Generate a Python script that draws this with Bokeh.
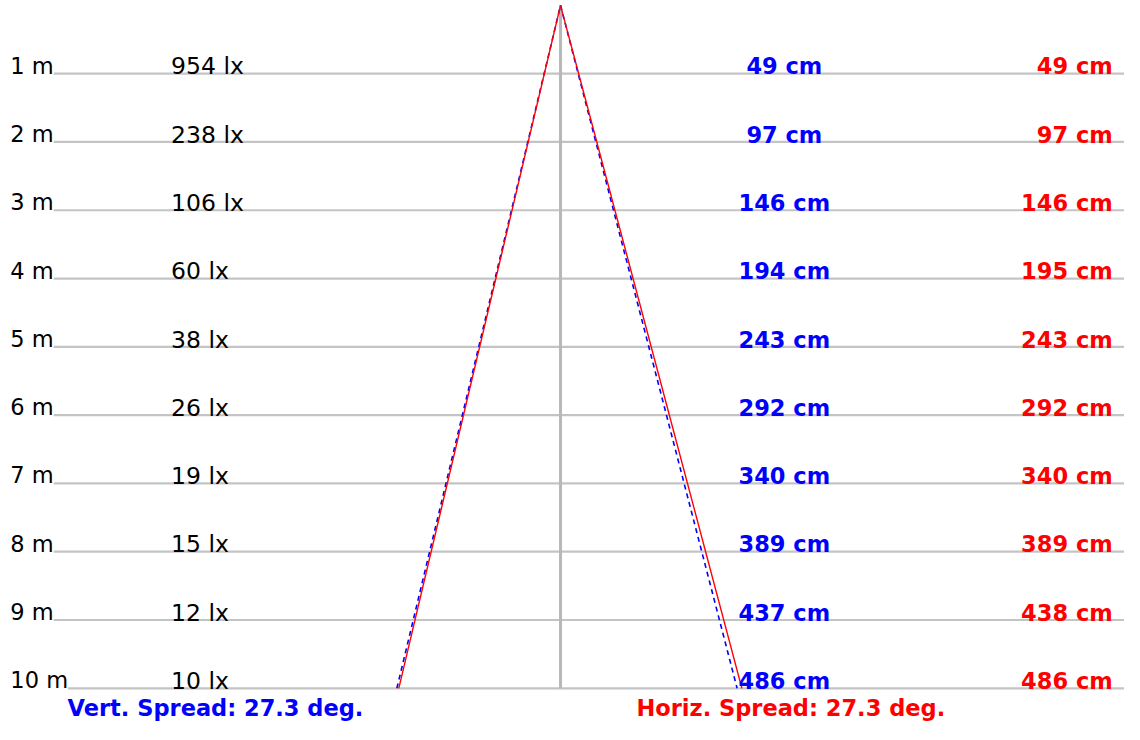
from bokeh.plotting import figure
from bokeh.models import Range1d, ColumnDataSource, LabelSet
from bokeh.core.properties import value
from bokeh.embed import file_html
from bokeh.resources import INLINE

# ---- data ----
distances = [1, 2, 3, 4, 5, 6, 7, 8, 9, 10]
dist_labels = ["1 m", "2 m", "3 m", "4 m", "5 m", "6 m", "7 m", "8 m", "9 m", "10 m"]
lux = [954, 238, 106, 60, 38, 26, 19, 15, 12, 10]
vert_cm = [49, 97, 146, 194, 243, 292, 340, 389, 437, 486]
horiz_cm = [49, 97, 146, 195, 243, 292, 340, 389, 438, 486]
vert_spread = 27.3
horiz_spread = 27.3

W, H = 1124, 724
REF_W = 1140          # layout units along x
CX = 568              # beam axis position in layout units

p = figure(width=W, height=H, output_backend="svg", toolbar_location=None,
           x_range=Range1d(0, REF_W), y_range=Range1d(10.53, -0.0716),
           x_axis_location=None, y_axis_location=None, min_border=0)
p.grid.visible = False
p.outline_line_color = None
p.background_fill_color = "white"

# separate horizontal scales (layout units per cm) for each cone edge
scales = {"vL": 0.683, "vR": 0.737, "hL": 0.675, "hR": 0.757}
for name, s in scales.items():
    p.extra_x_ranges[name] = Range1d(-CX / s, (REF_W - CX) / s)

font = value("DejaVu Sans")
FS = "22.5px"

# horizontal distance lines
n = len(distances)
p.segment(x0=[12] * n, y0=distances, x1=[REF_W] * n, y1=distances,
          line_color="#c4c4c4", line_width=2.2)

# beam axis
p.line([0, 0], [0, distances[-1]], x_range_name="hL", line_color="#b8b8b8", line_width=3)

# cone edges
dmax = distances[-1]
vw = vert_cm[-1] / 2.0
hw = horiz_cm[-1] / 2.0
p.line([-vw, 0], [dmax, 0], x_range_name="vL", line_color="blue", line_width=1.6, line_dash="5 4")
p.line([0, vw], [0, dmax], x_range_name="vR", line_color="blue", line_width=1.6, line_dash="5 4")
p.line([-hw, 0], [dmax, 0], x_range_name="hL", line_color="red", line_width=1.4)
p.line([0, hw], [0, dmax], x_range_name="hR", line_color="red", line_width=1.4)

# distance labels (white background hides the start of each line)
src_m = ColumnDataSource(dict(x=[10] * n, y=distances, t=dist_labels))
p.add_layout(LabelSet(x="x", y="y", text="t", source=src_m, text_font=font,
                      text_font_size=FS, text_color="black", text_baseline="alphabetic",
                      background_fill_color="white"))

ylab = [d - 0.107 for d in distances]
p.text(x=[173] * n, y=ylab, text=[f"{v} lx" for v in lux],
       text_font=font, text_font_size="23.5px", text_color="black",
       text_align="left", text_baseline="alphabetic")
p.text(x=[795] * n, y=ylab, text=[f"{v} cm" for v in vert_cm],
       text_font=font, text_font_size=FS, text_font_style="bold", text_color="blue",
       text_align="center", text_baseline="alphabetic")
p.text(x=[1128] * n, y=ylab, text=[f"{v} cm" for v in horiz_cm],
       text_font=font, text_font_size=FS, text_font_style="bold", text_color="red",
       text_align="right", text_baseline="alphabetic")

p.text(x=[68], y=[10.29], text=[f"Vert. Spread: {vert_spread} deg."],
       text_font=font, text_font_size=FS, text_font_style="bold", text_color="blue",
       text_align="left", text_baseline="alphabetic")
p.text(x=[645], y=[10.29], text=[f"Horiz. Spread: {horiz_spread} deg."],
       text_font=font, text_font_size=FS, text_font_style="bold", text_color="red",
       text_align="left", text_baseline="alphabetic")

open("out.html", "w").write(file_html(p, INLINE))
